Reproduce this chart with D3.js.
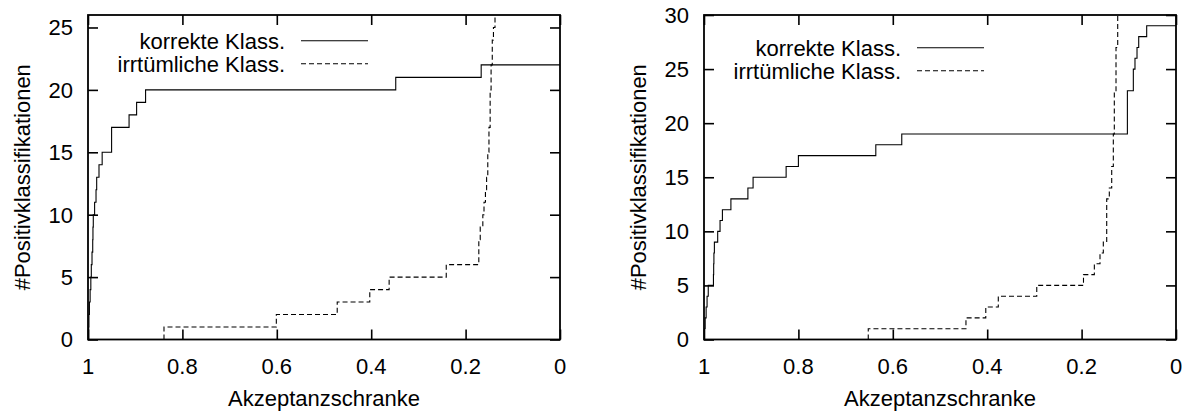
<!DOCTYPE html>
<html>
<head>
<meta charset="utf-8">
<script src="https://cdn.jsdelivr.net/npm/d3@7"></script>
<style>
  body { margin: 0; background: #fff; }
  text { font-family: "Liberation Sans", Arial, sans-serif; font-size: 22px; fill: #000; }
</style>
</head>
<body>
<div id="chart"></div>
<script>
// left panel
const leftCorrectX = [1.0, 0.9985, 0.998, 0.997, 0.9955, 0.994, 0.993, 0.9915, 0.990, 0.9895, 0.9888, 0.986, 0.983, 0.9816, 0.9767, 0.970, 0.950, 0.913, 0.897, 0.878, 0.348, 0.167, 0];
const leftCorrectY = [0, 1, 2, 3, 4, 5, 6, 7, 8, 9, 10, 11, 12, 13, 14, 15, 17, 18, 19, 20, 21, 22, 22];
const leftWrongX = [0.839, 0.839, 0.601, 0.472, 0.403, 0.362, 0.241, 0.172, 0.169, 0.1635, 0.161, 0.158, 0.1555, 0.153, 0.1505, 0.148, 0.146, 0.1435, 0.141, 0.1377];
const leftWrongY = [0, 1, 2, 3, 4, 5, 6, 8, 9, 10, 11, 12, 13, 15, 17, 20, 22, 24, 25, 26];

// right panel
const rightCorrectX = [1.0, 0.999, 0.9975, 0.9955, 0.9935, 0.991, 0.980, 0.9795, 0.979, 0.978, 0.971, 0.966, 0.961, 0.943, 0.907, 0.896, 0.826, 0.800, 0.636, 0.581, 0.103, 0.0904, 0.0869, 0.0826, 0.079, 0.0621, 0];
const rightCorrectY = [0, 1, 2, 3, 4, 5, 6, 7, 8, 9, 10, 11, 12, 13, 14, 15, 16, 17, 18, 19, 23, 25, 26, 27, 28, 29, 29];
const rightWrongX = [0.652, 0.652, 0.445, 0.403, 0.3765, 0.295, 0.196, 0.173, 0.161, 0.154, 0.1468, 0.1413, 0.1362, 0.1328, 0.1307, 0.1271, 0.1235];
const rightWrongY = [0, 1, 2, 3, 4, 5, 6, 7, 8, 9, 13, 14, 16, 19, 23, 27, 30];

const xTicks = [1, 0.8, 0.6, 0.4, 0.2, 0];
const leftYTicks = [0, 5, 10, 15, 20, 25];
const rightYTicks = [0, 5, 10, 15, 20, 25, 30];
const legendLabels = ['korrekte Klass.', 'irrtümliche Klass.'];
const xLabel = 'Akzeptanzschranke';
const yLabel = '#Positivklassifikationen';

const width = 1189;
const height = 412;

const svg = d3.select('#chart')
    .append('svg')
    .attr('width', width)
    .attr('height', height);

svg.append('rect').attr('width', width).attr('height', height).attr('fill', '#fff');

function zip(xs, ys) {
    return xs.map((x, i) => [x, ys[i]]);
}

function drawPanel(opts) {
    const w = 472, h = 324.5;
    const g = svg.append('g').attr('transform', `translate(${opts.left}, 15)`);

    const x = d3.scaleLinear().domain([1, 0]).range([0, w]);
    const y = d3.scaleLinear().domain([0, opts.yMax]).range([h, 0]);

    const clipId = 'clip-' + opts.id;
    g.append('clipPath').attr('id', clipId)
        .append('rect').attr('width', w).attr('height', h);

    // inner ticks on all four sides
    const tickLen = 10;
    g.append('g').attr('transform', `translate(0, ${h})`)
        .call(d3.axisTop(x).tickValues(xTicks).tickSize(tickLen).tickFormat(''));
    g.append('g')
        .call(d3.axisBottom(x).tickValues(xTicks).tickSize(tickLen).tickFormat(''));
    g.append('g')
        .call(d3.axisRight(y).tickValues(opts.yTicks).tickSize(tickLen).tickFormat(''));
    g.append('g').attr('transform', `translate(${w}, 0)`)
        .call(d3.axisLeft(y).tickValues(opts.yTicks).tickSize(tickLen).tickFormat(''));
    g.selectAll('.domain').remove();
    g.selectAll('.tick line').attr('stroke', '#000').attr('stroke-width', 1.6);

    // tick labels
    g.selectAll('.xlab').data(xTicks).enter().append('text')
        .attr('x', d => x(d)).attr('y', h + 34)
        .attr('text-anchor', 'middle')
        .text(d => d3.format('~g')(d));
    g.selectAll('.ylab').data(opts.yTicks).enter().append('text')
        .attr('x', -15).attr('y', d => y(d)).attr('dy', '0.36em')
        .attr('text-anchor', 'end')
        .text(d => d);

    // axis titles
    g.append('text').attr('x', w / 2).attr('y', h + 66)
        .attr('text-anchor', 'middle').text(xLabel);
    g.append('text')
        .attr('transform', `translate(-58, ${h / 2}) rotate(-90)`)
        .attr('text-anchor', 'middle').text(yLabel);

    const line = d3.line()
        .x(d => x(d[0]))
        .y(d => y(d[1]))
        .curve(d3.curveStepAfter);

    const lines = g.append('g').attr('clip-path', `url(#${clipId})`);
    lines.append('path')
        .attr('d', line(opts.correct))
        .attr('fill', 'none').attr('stroke', '#000').attr('stroke-width', 1.1);
    lines.append('path')
        .attr('d', line(opts.wrong))
        .attr('fill', 'none').attr('stroke', '#000').attr('stroke-width', 1.1)
        .attr('stroke-dasharray', '5,3');

    // legend
    legendLabels.forEach((lab, i) => {
        const ly = opts.legendY + i * 23;
        g.append('text').attr('x', 197).attr('y', ly).attr('dy', '0.36em')
            .attr('text-anchor', 'end').text(lab);
        g.append('line')
            .attr('x1', 213).attr('x2', 280).attr('y1', ly).attr('y2', ly)
            .attr('stroke', '#000').attr('stroke-width', 1.1)
            .attr('stroke-dasharray', i === 1 ? '5,3' : null);
    });

    // frame
    g.append('rect').attr('width', w).attr('height', h)
        .attr('fill', 'none').attr('stroke', '#000').attr('stroke-width', 1.8);
}

drawPanel({
    id: 'left', left: 88, yMax: 26, yTicks: leftYTicks, legendY: 25.7,
    correct: zip(leftCorrectX, leftCorrectY),
    wrong: zip(leftWrongX, leftWrongY)
});

drawPanel({
    id: 'right', left: 704, yMax: 30, yTicks: rightYTicks, legendY: 32.7,
    correct: zip(rightCorrectX, rightCorrectY),
    wrong: zip(rightWrongX, rightWrongY)
});
</script>
</body>
</html>
